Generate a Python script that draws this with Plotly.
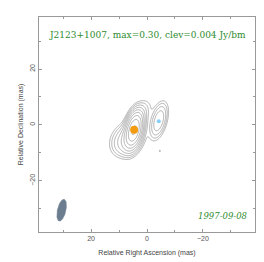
import numpy as np
import plotly.graph_objects as go

# ---- data ----
source = "J2123+1007"
peak_jy = 0.30
clev_jy = 0.004
epoch = "1997-09-08"

# model components: RA offset (mas, east +), Dec offset (mas), flux (Jy/bm), sigma major, sigma minor (mas), PA (deg)
comp_x = [4.6, -4.2, 7.0, 8.5, 1.5, -4.6]
comp_y = [-1.7, 1.5, -5.0, -7.5, 4.5, -9.3]
comp_f = [0.27, 0.032, 0.028, 0.007, 0.008, 0.0045]
comp_smaj = [3.4, 3.6, 3.4, 2.6, 3.2, 0.6]
comp_smin = [1.5, 1.5, 2.8, 2.4, 1.8, 0.4]
comp_pa = [-13, -15, -40, -40, -25, 0]

# marker positions (model-fit components)
core_xy = (4.6, -1.7)
jet_xy = (-4.2, 1.3)

# restoring beam: centre, FWHM major, minor (mas), PA (deg)
beam_x, beam_y = 30.5, -30.5
beam_maj, beam_min, beam_pa = 8.0, 3.0, -13

xr = np.linspace(-38, 38, 381)
yr = np.linspace(-38, 38, 381)
X, Y = np.meshgrid(xr, yr)
I = np.zeros_like(X)
for x0, y0, f, sa, sb, pa in zip(comp_x, comp_y, comp_f, comp_smaj, comp_smin, comp_pa):
    t = np.radians(pa)
    dx, dy = X - x0, Y - y0
    a = dx * np.sin(t) + dy * np.cos(t)
    b = dx * np.cos(t) - dy * np.sin(t)
    I += f * np.exp(-a**2 / (2 * sa**2) - b**2 / (2 * sb**2))

Z = np.log2(np.maximum(I, 1e-9) / clev_jy)

fig = go.Figure()
fig.add_trace(go.Contour(
    x=xr, y=yr, z=Z,
    contours=dict(start=0, end=7, size=0.75, coloring="lines"),
    colorscale=[[0, "#9a9a9a"], [1, "#9a9a9a"]],
    line=dict(width=0.8), showscale=False, hoverinfo="skip"))

# beam ellipse
t = np.linspace(0, 2 * np.pi, 80)
pa = np.radians(beam_pa)
a = beam_maj / 2 * np.cos(t)
b = beam_min / 2 * np.sin(t)
ex = beam_x + a * np.sin(pa) + b * np.cos(pa)
ey = beam_y + a * np.cos(pa) - b * np.sin(pa)
fig.add_trace(go.Scatter(x=ex, y=ey, mode="lines", fill="toself",
                         fillcolor="#6b7d8e", line=dict(color="#6b7d8e", width=0.5),
                         hoverinfo="skip", showlegend=False))

fig.add_trace(go.Scatter(x=[core_xy[0]], y=[core_xy[1]], mode="markers",
                         marker=dict(color="#f39c12", size=8), showlegend=False))
fig.add_trace(go.Scatter(x=[jet_xy[0]], y=[jet_xy[1]], mode="markers",
                         marker=dict(color="#87cefa", size=4), showlegend=False))

axis_common = dict(
    showline=True, mirror="ticks", linecolor="#999999", linewidth=1,
    ticks="inside", ticklen=3, tickcolor="#999999",
    tickvals=[-20, 0, 20], showgrid=False, zeroline=False,
    tickfont=dict(family="Liberation Sans", size=7, color="#555555"),
    minor=dict(dtick=10, ticks="inside", ticklen=2, tickcolor="#999999"),
)
fig.update_xaxes(range=[38.6, -38.6], title=dict(text="Relative Right Ascension (mas)",
                 font=dict(family="Liberation Sans", size=7, color="#444444"), standoff=8),
                 **axis_common)
fig.update_yaxes(range=[-38.3, 38.6], tickangle=-90,
                 title=dict(text="Relative Declination (mas)",
                            font=dict(family="Liberation Sans", size=7, color="#444444"), standoff=4),
                 **axis_common)

fig.add_annotation(x=0.5, y=0.949, xref="paper", yref="paper", showarrow=False,
                   text=f"{source}, max={peak_jy:.2f}, clev={clev_jy:.3f} Jy/bm",
                   font=dict(family="DejaVu Serif", size=9, color="#2e8b2e"))
fig.add_annotation(x=0.977, y=0.042, xref="paper", yref="paper", showarrow=False,
                   xanchor="right", text=f"<i>{epoch}</i>",
                   font=dict(family="DejaVu Serif", size=8.5, color="#2e8b2e"))

fig.update_layout(width=264, height=262, margin=dict(l=31, r=17, t=9, b=38),
                  plot_bgcolor="white", paper_bgcolor="white", showlegend=False)
fig.write_html("out.html")
